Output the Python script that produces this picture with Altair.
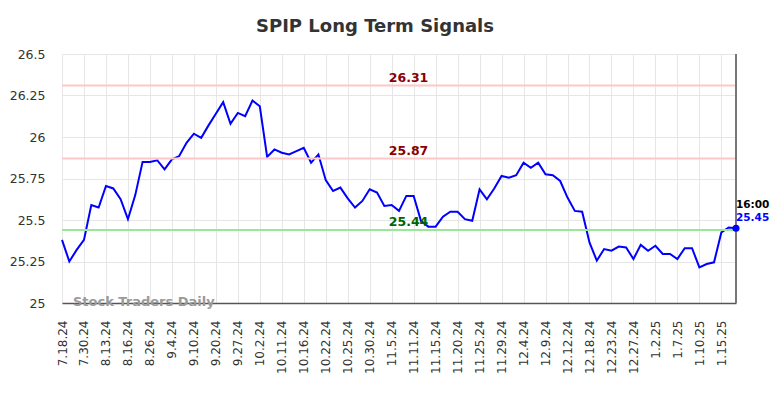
import json
import altair as alt
import pandas as pd

tick_labels = ["7.18.24", "7.30.24", "8.13.24", "8.16.24", "8.26.24", "9.4.24", "9.10.24",
               "9.20.24", "9.27.24", "10.2.24", "10.11.24", "10.16.24", "10.22.24", "10.25.24",
               "10.30.24", "11.5.24", "11.11.24", "11.15.24", "11.20.24", "11.25.24", "11.29.24",
               "12.4.24", "12.9.24", "12.12.24", "12.18.24", "12.23.24", "12.27.24", "1.2.25",
               "1.7.25", "1.10.25", "1.15.25"]

prices = [25.38, 25.25, 25.32, 25.38, 25.59, 25.575, 25.705, 25.69, 25.625, 25.505,
          25.65, 25.85, 25.85, 25.86, 25.805, 25.865, 25.885, 25.965, 26.02, 25.995,
          26.07, 26.14, 26.21, 26.08, 26.145, 26.125, 26.22, 26.185, 25.88, 25.925,
          25.905, 25.895, 25.915, 25.935, 25.845, 25.895, 25.74, 25.675, 25.695, 25.63,
          25.575, 25.615, 25.685, 25.665, 25.585, 25.59, 25.555, 25.645, 25.645, 25.495,
          25.46, 25.46, 25.52, 25.55, 25.55, 25.505, 25.495, 25.685, 25.625, 25.69,
          25.765, 25.755, 25.77, 25.845, 25.815, 25.845, 25.775, 25.77, 25.735, 25.635,
          25.555, 25.55, 25.365, 25.255, 25.325, 25.315, 25.34, 25.335, 25.265, 25.35,
          25.315, 25.345, 25.295, 25.295, 25.265, 25.33, 25.33, 25.215, 25.235, 25.245,
          25.425, 25.455, 25.45]

label_step = 3
signal_values = [26.31, 25.87, 25.44]
signal_labels = ["26.31", "25.87", "25.44"]
signal_line_colors = ["#ffc8c8", "#ffc8c8", "#98e898"]
signal_text_colors = ["#8b0000", "#8b0000", "#006400"]
last_time = "16:00"
last_value_text = "25.45"
watermark = "Stock Traders Daily"

n = len(prices)
last_idx = n - 1
df = pd.DataFrame({"idx": list(range(n)), "price": prices})
sig = pd.DataFrame({"value": signal_values, "label": signal_labels,
                    "lc": signal_line_colors, "tc": signal_text_colors,
                    "xpos": [47.3] * 3})
last = pd.DataFrame({"idx": [last_idx], "price": [prices[-1]],
                     "t": [last_time], "v": [last_value_text]})

xscale = alt.Scale(domain=[0, last_idx], nice=False, zero=False)
yscale = alt.Scale(domain=[25, 26.5], nice=False, zero=False)

label_expr = json.dumps(tick_labels) + "[round(datum.value/" + str(label_step) + ")]"
x_values = list(range(0, len(tick_labels) * label_step, label_step))
y_values = [25, 25.25, 25.5, 25.75, 26, 26.25, 26.5]


def xax():
    return alt.Axis(values=x_values, labelExpr=label_expr, labelAngle=-90, labelFontSize=12,
                    labelColor="#333333", labelPadding=17, ticks=False,
                    labelOverlap=False, labelBound=False, labelFlush=False,
                    domain=True, domainColor="#555555", domainWidth=1.5,
                    grid=True, gridColor="#e6e6e6", title=None, labelFont="DejaVu Sans")


def yax():
    return alt.Axis(values=y_values, labelExpr="format(datum.value, '.4~g')",
                    labelFontSize=12.5, labelColor="#333333", labelPadding=17,
                    labelOverlap=False, labelFlush=False,
                    ticks=False, domain=False, grid=True, gridColor="#e6e6e6",
                    title=None, labelFont="DejaVu Sans")


def X(field):
    return alt.X(field, scale=xscale, axis=xax())


def Y(field):
    return alt.Y(field, scale=yscale, axis=yax())


base = alt.Chart(df).mark_line(color="#0000ff", strokeWidth=2).encode(
    x=X("idx:Q"), y=Y("price:Q"))

sig_rules = alt.Chart(sig).mark_rule(strokeWidth=2).encode(
    y=Y("value:Q"), color=alt.Color("lc:N", scale=None))
sig_text = alt.Chart(sig).mark_text(fontWeight="bold", fontSize=12.5, baseline="alphabetic",
                                    align="center", dy=-4, font="DejaVu Sans").encode(
    x=X("xpos:Q"), y=Y("value:Q"), text="label:N", color=alt.Color("tc:N", scale=None))

vline = alt.Chart(last).mark_rule(color="#777777", strokeWidth=2).encode(x=X("idx:Q"))
pt = alt.Chart(last).mark_circle(color="#0000ff", size=50, opacity=1).encode(
    x=X("idx:Q"), y=Y("price:Q"))
t_time = alt.Chart(last).mark_text(align="left", baseline="alphabetic", dy=-20, dx=0,
                                   fontWeight="bold", fontSize=10.5, color="#000000",
                                   font="DejaVu Sans").encode(
    x=X("idx:Q"), y=Y("price:Q"), text="t:N")
t_val = alt.Chart(last).mark_text(align="left", baseline="alphabetic", dy=-7, dx=0,
                                  fontWeight="bold", fontSize=10.5, color="#0000ff",
                                  font="DejaVu Sans").encode(
    x=X("idx:Q"), y=Y("price:Q"), text="v:N")

wm = alt.Chart(pd.DataFrame({"x": [1.5], "y": [25.0], "t": [watermark]})).mark_text(
    align="left", baseline="middle", dy=-1, fontWeight="bold", fontSize=13,
    color="#9a9a9a", font="DejaVu Sans").encode(
    x=X("x:Q"), y=Y("y:Q"), text="t:N")

chart = alt.layer(base, sig_rules, vline, sig_text, pt, t_time, t_val, wm).properties(
    width=674, height=249,
    title=alt.TitleParams("SPIP Long Term Signals", fontSize=18, fontWeight="bold",
                          color="#333333", anchor="middle", dx=-24, offset=12,
                          font="DejaVu Sans"),
    autosize=alt.AutoSizeParams(type="none"),
    padding={"left": 54, "top": 46, "right": 38, "bottom": 80},
).configure_view(stroke=None).configure_axisX(labelOverlap=False)

chart.save("out.html", embed_options={"renderer": "svg", "actions": False})
